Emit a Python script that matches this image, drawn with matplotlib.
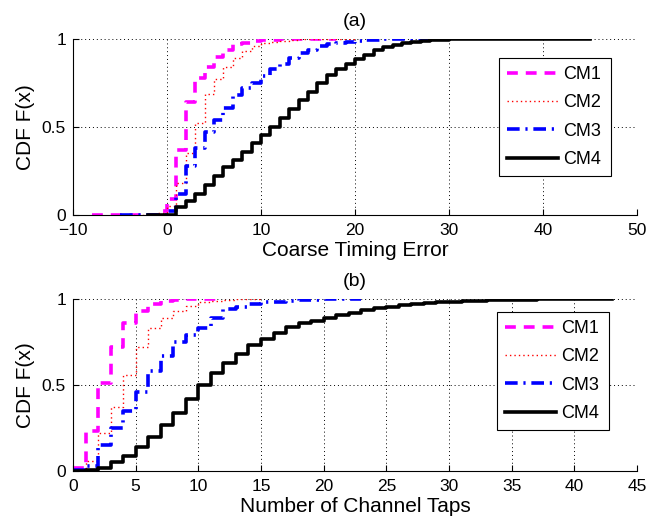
import numpy as np
import matplotlib
matplotlib.use("Agg")
import matplotlib.pyplot as plt
from matplotlib.ticker import FixedLocator, FixedFormatter

plt.rcParams['font.family'] = ['Liberation Sans', 'DejaVu Sans']

labels = ["CM1", "CM2", "CM3", "CM4"]

# ---- panel (a): coarse timing error, CDF values at integer steps ----
a_cm1_start = -8
a_cm1 = [0, 0, 0, 0, 0, 0, 0, 0.02, 0.09, 0.37, 0.64, 0.78, 0.84, 0.90, 0.94, 0.97,
         0.98, 0.99, 0.993, 0.996, 0.998, 1, 1, 1, 1, 1, 1]
a_cm2_start = -4
a_cm2 = [0, 0, 0, 0.01, 0.05, 0.18, 0.35, 0.52, 0.69, 0.77, 0.84, 0.89, 0.93, 0.96,
         0.975, 0.985, 0.99, 0.995, 1, 1, 1, 1, 1, 1, 1]
a_cm3_start = -5
a_cm3 = [0, 0, 0, 0, 0, 0.02, 0.12, 0.28, 0.38, 0.47, 0.54, 0.61, 0.68, 0.72, 0.75,
         0.79, 0.83, 0.86, 0.89, 0.92, 0.94, 0.96, 0.97, 0.98, 0.985, 0.99, 0.993,
         0.996, 0.998, 1, 1, 1, 1, 1, 1, 1]
a_cm4_start = -2
a_cm4 = [0, 0, 0, 0.045, 0.08, 0.12, 0.17, 0.22, 0.27, 0.315, 0.36, 0.41, 0.455, 0.50,
         0.55, 0.605, 0.655, 0.70, 0.75, 0.795, 0.83, 0.86, 0.885, 0.91, 0.935, 0.953,
         0.965, 0.975, 0.983, 0.989, 0.993, 0.996, 0.998] + [1] * 15

# ---- panel (b): number of channel taps ----
b_cm1_start = 0
b_cm1 = [0.02, 0.23, 0.51, 0.72, 0.86, 0.93, 0.97, 0.99, 0.995, 1, 1, 1, 1]
b_cm2_start = 0
b_cm2 = [0.01, 0.06, 0.22, 0.37, 0.56, 0.72, 0.83, 0.89, 0.93, 0.96, 0.98, 0.99,
         0.995, 1, 1, 1]
b_cm3_start = 0
b_cm3 = [0.005, 0.03, 0.15, 0.25, 0.35, 0.46, 0.58, 0.67, 0.75, 0.79, 0.83, 0.89,
         0.94, 0.955, 0.97, 0.98, 0.985, 0.99, 0.995, 0.997, 1, 1, 1, 1]
b_cm4_start = 0
b_cm4 = [0, 0.003, 0.02, 0.05, 0.09, 0.14, 0.20, 0.27, 0.34, 0.42, 0.50, 0.57, 0.63,
         0.68, 0.73, 0.765, 0.805, 0.84, 0.86, 0.875, 0.89, 0.905, 0.92, 0.935, 0.945,
         0.955, 0.963, 0.97, 0.975, 0.98, 0.985, 0.988, 0.99, 0.992, 0.994, 0.996,
         0.997, 0.998, 1, 1, 1, 1, 1, 1]

a_xticks = [-10, 0, 10, 20, 30, 40, 50]
b_xticks = [0, 5, 10, 15, 20, 25, 30, 35, 40, 45]
yticks = [0, 0.5, 1]
ytick_labels = ["0", "0.5", "1"]

styles = [
    dict(color="#ff00ff", linestyle=(0, (3.0, 2.2)), linewidth=2.6),
    dict(color="#ff0000", linestyle=(0, (1.0, 2.2)), linewidth=1.0),
    dict(color="#0000ff", linestyle=(0, (3.5, 1.6, 0.6, 1.6)), linewidth=2.6),
    dict(color="#000000", linestyle="-", linewidth=2.6),
]

fig = plt.figure(figsize=(6.51, 5.24), dpi=100)
W, H = 651, 524
ax_a = fig.add_axes([73 / W, 1 - 215 / H, 564 / W, 176 / H])
ax_b = fig.add_axes([73 / W, 1 - 471 / H, 564 / W, 172 / H])


def draw(ax, series, xticks, xlabel, title, legend_box):
    for (start, vals), lab, st in zip(series, labels, styles):
        x = np.arange(start, start + len(vals))
        ax.plot(x, vals, drawstyle="steps-post", label=lab, **st)
    ax.set_xlim(xticks[0], xticks[-1])
    ax.set_ylim(0, 1)
    ax.xaxis.set_major_locator(FixedLocator(xticks))
    ax.yaxis.set_major_locator(FixedLocator(yticks))
    ax.yaxis.set_major_formatter(FixedFormatter(ytick_labels))
    ax.grid(True, color="black", linestyle=(0, (1, 3)), linewidth=0.7)
    for s in ["top", "right"]:
        ax.spines[s].set_visible(False)
    for s in ["left", "bottom"]:
        ax.spines[s].set_linewidth(0.8)
    ax.tick_params(direction="in", length=4, labelsize=12.5)
    ax.tick_params(axis="x", pad=6)
    ax.tick_params(axis="y", pad=5)
    ax.set_xlabel(xlabel, fontsize=15, labelpad=2)
    ax.set_ylabel("CDF F(x)", fontsize=15, labelpad=5)
    ax.set_title(title, fontsize=14, pad=9)
    leg = ax.legend(loc="lower left", bbox_to_anchor=legend_box, mode="expand",
                    fontsize=13, frameon=True, fancybox=False, framealpha=1,
                    edgecolor="black", handlelength=2.8, labelspacing=0.62,
                    borderpad=0.45, handletextpad=0.3, borderaxespad=0)
    leg.get_frame().set_linewidth(0.8)


draw(ax_a, [(a_cm1_start, a_cm1), (a_cm2_start, a_cm2), (a_cm3_start, a_cm3),
            (a_cm4_start, a_cm4)],
     a_xticks, "Coarse Timing Error", "(a)",
     ((499 - 73) / 564, (215 - 176) / 176, (611 - 499) / 564, (176 - 62) / 176))
draw(ax_b, [(b_cm1_start, b_cm1), (b_cm2_start, b_cm2), (b_cm3_start, b_cm3),
            (b_cm4_start, b_cm4)],
     b_xticks, "Number of Channel Taps", "(b)",
     ((497 - 73) / 564, (471 - 430) / 172, (609 - 497) / 564, (430 - 315) / 172))

fig.savefig("out.png", dpi=100)
